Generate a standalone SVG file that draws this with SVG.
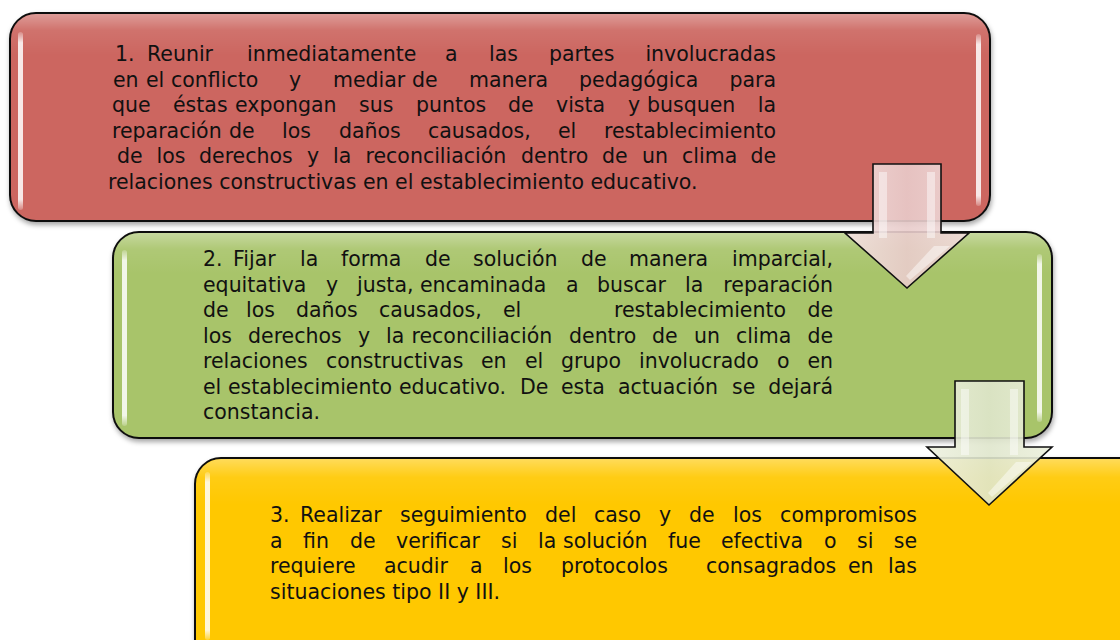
<svg xmlns="http://www.w3.org/2000/svg" width="1120" height="640" viewBox="0 0 1120 640">
  <defs>
    <filter id="shadow" x="-5%" y="-10%" width="110%" height="125%">
      <feDropShadow dx="1" dy="3" stdDeviation="2.5" flood-color="#000" flood-opacity="0.35"/>
    </filter>
    <linearGradient id="gloss" x1="0" y1="0" x2="0" y2="1">
      <stop offset="0" stop-color="#fff" stop-opacity="0.35"/>
      <stop offset="0.08" stop-color="#fff" stop-opacity="0.08"/>
      <stop offset="0.2" stop-color="#fff" stop-opacity="0"/>
      <stop offset="1" stop-color="#fff" stop-opacity="0"/>
    </linearGradient>
    <linearGradient id="hl" x1="0" y1="0" x2="0" y2="1">
      <stop offset="0" stop-color="#fff" stop-opacity="0.2"/>
      <stop offset="0.06" stop-color="#fff" stop-opacity="0.85"/>
      <stop offset="0.94" stop-color="#fff" stop-opacity="0.85"/>
      <stop offset="1" stop-color="#fff" stop-opacity="0.2"/>
    </linearGradient>
    <linearGradient id="arrowRed" x1="0" y1="0" x2="1" y2="0">
      <stop offset="0" stop-color="#f3e2e0"/>
      <stop offset="0.5" stop-color="#e9cccb"/>
      <stop offset="1" stop-color="#f1dcdb"/>
    </linearGradient>
    <linearGradient id="arrowGreen" x1="0" y1="0" x2="1" y2="0">
      <stop offset="0" stop-color="#eef1e0"/>
      <stop offset="0.5" stop-color="#dfe6cc"/>
      <stop offset="1" stop-color="#ecf0dc"/>
    </linearGradient>
    <style>
      .box { stroke: #111; stroke-width: 2; }
      .red { fill: #cc6660; }
      .green { fill: #a8c46b; }
      .yellow { fill: #ffc800; }
      .gloss { fill: url(#gloss); stroke: none; }
      .hl { fill: url(#hl); }
      .t { font-family: "DejaVu Sans", Verdana, sans-serif; font-size: 20.5px; fill: #111; }
      .e { text-anchor: end; }
      .arrow { stroke: #111; stroke-width: 1.6; stroke-linejoin: miter; }
      .bevel { fill: #fff; opacity: 0.45; }
    </style>
  </defs>

  <rect width="1120" height="640" fill="#fff"/>

  <g id="node1">
    <rect class="box red" x="10" y="13" width="980" height="208" rx="26" filter="url(#shadow)"/>
    <rect class="gloss" x="11" y="14" width="978" height="206" rx="25"/>
    <rect class="hl" x="18" y="32" width="5" height="178" rx="2.5"/>
    <rect class="hl" x="976" y="34" width="5" height="172" rx="2.5"/>
    <text class="t" y="61"><tspan x="115">1.</tspan><tspan x="147">Reunir</tspan><tspan x="247">inmediatamente</tspan><tspan x="445">a</tspan><tspan x="489">las</tspan><tspan x="549">partes</tspan><tspan class="e" x="776">involucradas</tspan></text>
    <text class="t" y="86.5"><tspan x="113">en</tspan><tspan x="146">el</tspan><tspan x="171">conflicto</tspan><tspan x="289">y</tspan><tspan x="333">mediar</tspan><tspan x="412">de</tspan><tspan x="469">manera</tspan><tspan x="579">pedagógica</tspan><tspan class="e" x="776">para</tspan></text>
    <text class="t" y="112"><tspan x="112">que</tspan><tspan x="173">éstas</tspan><tspan x="235">expongan</tspan><tspan x="359">sus</tspan><tspan x="416">puntos</tspan><tspan x="508">de</tspan><tspan x="556">vista</tspan><tspan x="628">y</tspan><tspan x="647">busquen</tspan><tspan class="e" x="776">la</tspan></text>
    <text class="t" y="137.5"><tspan x="112">reparación</tspan><tspan x="229">de</tspan><tspan x="282">los</tspan><tspan x="339">daños</tspan><tspan x="428">causados,</tspan><tspan x="558">el</tspan><tspan class="e" x="776">restablecimiento</tspan></text>
    <text class="t" y="163"><tspan x="117">de</tspan><tspan x="156.5">los</tspan><tspan x="199">derechos</tspan><tspan x="307">y</tspan><tspan x="333">la</tspan><tspan x="365.5">reconciliación</tspan><tspan x="521">dentro</tspan><tspan x="602">de</tspan><tspan x="642">un</tspan><tspan x="682">clima</tspan><tspan class="e" x="776">de</tspan></text>
    <text class="t" x="108" y="188.5">relaciones constructivas en el establecimiento educativo.</text>
  </g>

  <g id="node2">
    <rect class="box green" x="113" y="232" width="939" height="206" rx="26" filter="url(#shadow)"/>
    <rect class="gloss" x="114" y="233" width="937" height="204" rx="25"/>
    <rect class="hl" x="122" y="250" width="5" height="176" rx="2.5"/>
    <rect class="hl" x="1037" y="254" width="5" height="168" rx="2.5"/>
    <text class="t" y="266"><tspan x="203">2.</tspan><tspan x="233">Fijar</tspan><tspan x="300">la</tspan><tspan x="341">forma</tspan><tspan x="425">de</tspan><tspan x="473">solución</tspan><tspan x="581">de</tspan><tspan x="629">manera</tspan><tspan class="e" x="833">imparcial,</tspan></text>
    <text class="t" y="291.5"><tspan x="203">equitativa</tspan><tspan x="326">y</tspan><tspan x="357">justa,</tspan><tspan x="420">encaminada</tspan><tspan x="566">a</tspan><tspan x="597">buscar</tspan><tspan x="685">la</tspan><tspan class="e" x="833">reparación</tspan></text>
    <text class="t" y="317"><tspan x="203">de</tspan><tspan x="246">los</tspan><tspan x="296">daños</tspan><tspan x="379">causados,</tspan><tspan x="503">el</tspan><tspan x="614">restablecimiento</tspan><tspan class="e" x="833">de</tspan></text>
    <text class="t" y="342.5"><tspan x="203">los</tspan><tspan x="248">derechos</tspan><tspan x="358">y</tspan><tspan x="386">la</tspan><tspan x="411.5">reconciliación</tspan><tspan x="569">dentro</tspan><tspan x="652">de</tspan><tspan x="694">un</tspan><tspan x="736">clima</tspan><tspan class="e" x="833">de</tspan></text>
    <text class="t" y="368"><tspan x="203">relaciones</tspan><tspan x="326">constructivas</tspan><tspan x="481">en</tspan><tspan x="525">el</tspan><tspan x="561">grupo</tspan><tspan x="639">involucrado</tspan><tspan x="777">o</tspan><tspan class="e" x="833">en</tspan></text>
    <text class="t" y="393.5"><tspan x="203">el</tspan><tspan x="228">establecimiento</tspan><tspan x="399">educativo.</tspan><tspan x="520">De</tspan><tspan x="561">esta</tspan><tspan x="618">actuación</tspan><tspan x="732">se</tspan><tspan class="e" x="833">dejará</tspan></text>
    <text class="t" x="203" y="419">constancia.</text>
  </g>

  <g id="node3">
    <rect class="box yellow" x="195" y="458" width="980" height="230" rx="26" filter="url(#shadow)"/>
    <rect class="gloss" x="196" y="459" width="978" height="228" rx="25"/>
    <rect class="hl" x="205" y="472" width="5" height="168" rx="2.5"/>
    <text class="t" y="522"><tspan x="270">3.</tspan><tspan x="300">Realizar</tspan><tspan x="400">seguimiento</tspan><tspan x="545">del</tspan><tspan x="594">caso</tspan><tspan x="659">y</tspan><tspan x="689">de</tspan><tspan x="733">los</tspan><tspan class="e" x="917">compromisos</tspan></text>
    <text class="t" y="547.5"><tspan x="270">a</tspan><tspan x="303">fin</tspan><tspan x="350">de</tspan><tspan x="396">verificar</tspan><tspan x="501">si</tspan><tspan x="538">la</tspan><tspan x="563">solución</tspan><tspan x="668">fue</tspan><tspan x="721">efectiva</tspan><tspan x="824">o</tspan><tspan x="857">si</tspan><tspan class="e" x="917">se</tspan></text>
    <text class="t" y="573"><tspan x="270">requiere</tspan><tspan x="384">acudir</tspan><tspan x="470">a</tspan><tspan x="503">los</tspan><tspan x="561">protocolos</tspan><tspan x="706">consagrados</tspan><tspan x="848">en</tspan><tspan class="e" x="917">las</tspan></text>
    <text class="t" x="270" y="598.5">situaciones tipo II y III.</text>
  </g>

  <g id="connectors">
    <g id="arrow1">
      <path class="arrow" d="M873,164 H941 V233 H969 L907,288 L845,233 H873 Z" fill="url(#arrowRed)" fill-opacity="0.9"/>
      <path class="bevel" d="M879,172 H887 V238 H879 Z"/>
      <path class="bevel" d="M927,172 H935 V238 H927 Z"/>
      <path class="bevel" d="M934,246 L950,246 L910,280 L906,276 Z" opacity="0.3"/>
    </g>
    <g id="arrow2">
      <path class="arrow" d="M955,381 H1024 V447 H1052 L989,505 L927,447 H955 Z" fill="url(#arrowGreen)" fill-opacity="0.9"/>
      <path class="bevel" d="M961,389 H969 V455 H961 Z"/>
      <path class="bevel" d="M1010,389 H1018 V455 H1010 Z"/>
      <path class="bevel" d="M1016,462 L1032,462 L992,497 L988,493 Z" opacity="0.3"/>
    </g>
  </g>
</svg>
